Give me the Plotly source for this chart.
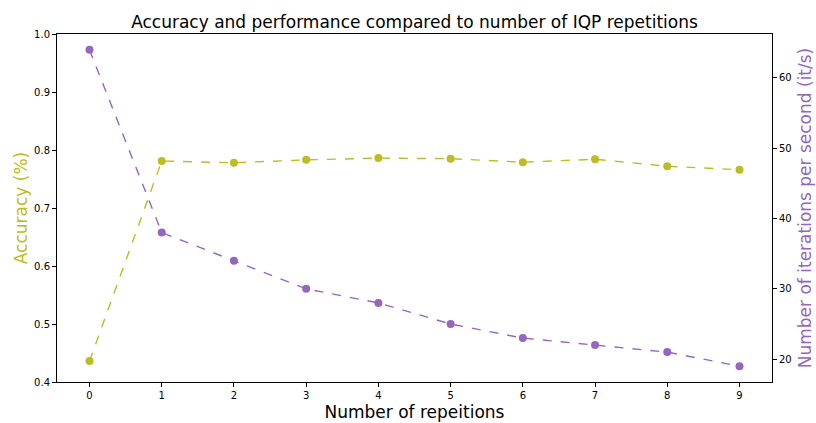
import plotly.graph_objects as go

repetitions = [0, 1, 2, 3, 4, 5, 6, 7, 8, 9]
accuracy = [0.436, 0.781, 0.778, 0.783, 0.786, 0.785, 0.779, 0.784, 0.772, 0.766]
iters_per_sec = [64, 38, 34, 30, 28, 25, 23, 22, 21, 19]

OLIVE = "#bcbd22"
PURPLE = "#9467bd"
FONT = "DejaVu Sans"

fig = go.Figure()
fig.add_trace(go.Scatter(
    x=repetitions, y=accuracy, mode="lines+markers",
    line=dict(color=OLIVE, dash="dash", width=1.4),
    marker=dict(color=OLIVE, size=8), yaxis="y", showlegend=False))
fig.add_trace(go.Scatter(
    x=repetitions, y=iters_per_sec, mode="lines+markers",
    line=dict(color=PURPLE, dash="dash", width=1.4),
    marker=dict(color=PURPLE, size=8), yaxis="y2", showlegend=False))

axis_common = dict(showgrid=False, zeroline=False, showline=True, linecolor="black",
                   linewidth=1, ticks="outside", ticklen=4, tickcolor="black",
                   automargin=False,
                   tickfont=dict(family=FONT, size=10, color="black"))

fig.update_layout(
    width=816, height=423,
    margin=dict(l=57, r=44, t=34, b=41),
    paper_bgcolor="white", plot_bgcolor="white",
    font=dict(family=FONT),
    title=dict(text="Accuracy and performance compared to number of IQP repetitions",
               x=(57 + 772) / 2 / 816, xanchor="center", y=1 - 22 / 423, yanchor="middle",
               font=dict(family=FONT, size=17, color="black")),
    xaxis=dict(range=[-0.45, 9.45], tickmode="array", tickvals=repetitions,
               title=dict(text="Number of repeitions", font=dict(family=FONT, size=17, color="black"),
                          standoff=6),
               mirror=True, **axis_common),
    yaxis=dict(range=[0.4, 1.0], tickmode="array", tickvals=[0.4, 0.5, 0.6, 0.7, 0.8, 0.9, 1.0],
               ticktext=["0.4", "0.5", "0.6", "0.7", "0.8", "0.9", "1.0"],
               title=dict(text="Accuracy (%)", font=dict(family=FONT, size=17, color=OLIVE),
                          standoff=2),
               mirror=True, **axis_common),
    yaxis2=dict(range=[16.75, 66.25], overlaying="y", side="right",
                tickmode="array", tickvals=[20, 30, 40, 50, 60],
                title=dict(text="Number of iterations per second (it/s)",
                           font=dict(family=FONT, size=17, color=PURPLE), standoff=8),
                **axis_common),
)

fig.write_html("out.html")
